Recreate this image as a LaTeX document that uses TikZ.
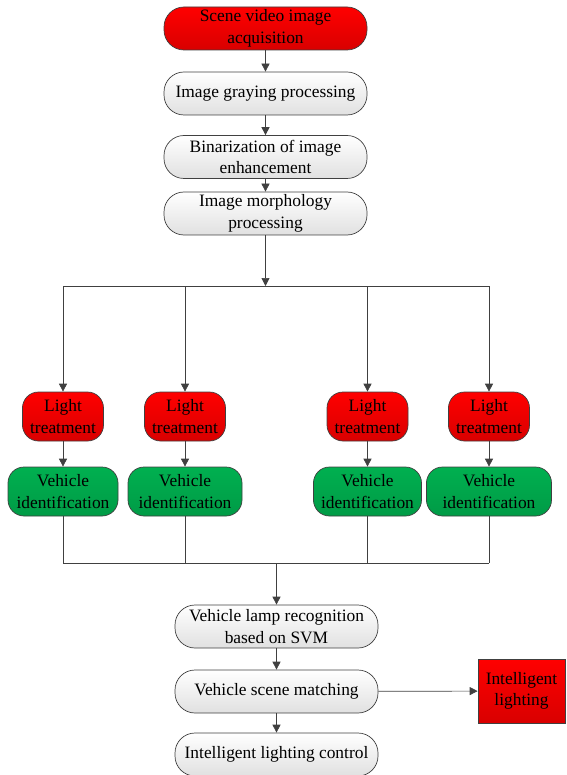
\documentclass[tikz,border=0pt]{standalone}
\usepackage{fontspec}
\setmainfont{Liberation Serif}
\usetikzlibrary{arrows.meta}
\definecolor{linegray}{HTML}{404040}
\tikzset{
	box/.style={draw=linegray, line width=0.7pt, align=center, inner sep=1pt,
		font=\fontsize{17.4}{21.5}\selectfont},
	proc/.style={box, rounded corners=20pt, minimum width=203pt, minimum height=43pt,
		top color=white, bottom color=black!12},
	redproc/.style={box, rounded corners=16pt, minimum width=81pt, minimum height=49pt,
		top color=red, bottom color=red!85!black},
	greenproc/.style={box, rounded corners=16pt, minimum width=#1, minimum height=49pt,
		top color={rgb,255:red,0;green,176;blue,80}, bottom color={rgb,255:red,0;green,155;blue,70}},
	arr/.style={draw=linegray, line width=0.7pt, -{Triangle[length=8pt,width=8pt]}},
	ln/.style={draw=linegray, line width=0.7pt}
}
\begin{document}
\begin{tikzpicture}[x=1pt, y=-1pt]
	\useasboundingbox (0,0) rectangle (566,775);
	\node [proc, top color=red, bottom color=red!85!black] (acq) at (265.5,28.5) {Scene video image\\acquisition};
	\node [proc] (gray) at (265.5,93.5) {Image graying processing};
	\node [proc] (bin) at (265.5,157) {Binarization of image\\enhancement};
	\node [proc] (morph) at (265.5,213.5) {Image morphology\\processing};
	\coordinate (split) at (265.5,286);
	\node [redproc] (l1) at (63,416.5) {Light\\treatment};
	\node [redproc] (l2) at (185,416.5) {Light\\treatment};
	\node [redproc] (l3) at (367.5,416.5) {Light\\treatment};
	\node [redproc] (l4) at (489,416.5) {Light\\treatment};
	\node [greenproc=110pt] (v1) at (63,491.5) {Vehicle\\identification};
	\node [greenproc=114pt] (v2) at (185,491.5) {Vehicle\\identification};
	\node [greenproc=108pt] (v3) at (367.5,491.5) {Vehicle\\identification};
	\node [greenproc=125pt] (v4) at (489,491.5) {Vehicle\\identification};
	\coordinate (join) at (276.5,563);
	\node [proc] (svm) at (276.5,626.5) {Vehicle lamp recognition\\based on SVM};
	\node [proc] (scene) at (276.5,691.5) {Vehicle scene matching};
	\node [proc] (ctrl) at (276.5,754.5) {Intelligent lighting control};
	\node [box, minimum width=87pt, minimum height=64pt, top color=red, bottom color=red!85!black] (light) at (521.5,691) {Intelligent\\lighting};
	\draw [arr] (acq) -- (gray);
	\draw [arr] (gray) -- (bin);
	\draw [arr] (bin) -- (morph);
	\draw [arr] (morph) -- (split);
	\draw [ln] (l1 |- split) -- (l4 |- split);
	\foreach \n in {1,...,4} {
		\draw [arr] (l\n |- split) -- (l\n);
		\draw [arr] (l\n) -- (v\n);
		\draw [ln] (v\n) -- (v\n |- join);
	}
	\draw [ln] (v1 |- join) -- (v4 |- join);
	\draw [arr] (join) -- (svm);
	\draw [arr] (svm) -- (scene);
	\draw [arr] (scene) -- (ctrl);
	\draw [arr] (scene) -- (light);
\end{tikzpicture}
\end{document}
